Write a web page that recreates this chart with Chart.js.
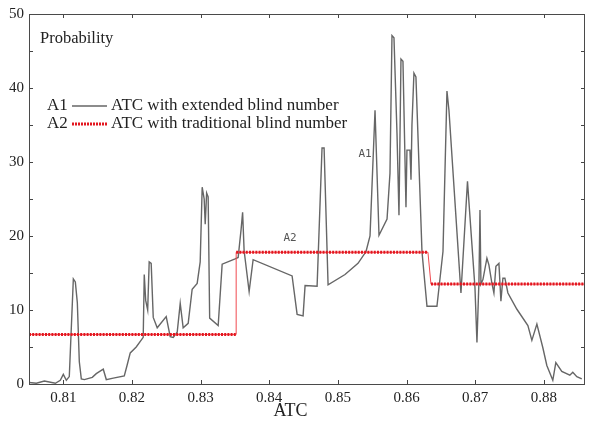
<!DOCTYPE html>
<html>
<head>
<meta charset="utf-8">
<script src="https://cdn.jsdelivr.net/npm/chart.js@4.4.1/dist/chart.umd.min.js"></script>
<style>
html,body{margin:0;padding:0;background:#fff;}
canvas{display:block;}
</style>
</head>
<body>
<canvas id="c" width="590" height="421"></canvas>
<script>
// ---- data ----
const a1X = [0.80505,0.80607,0.80724,0.80884,0.80956,0.81000,0.81044,0.81087,0.81146,0.81175,0.81204,0.81233,0.81262,0.81306,0.81422,0.81480,0.81582,0.81626,0.81728,0.81888,0.81931,0.81975,0.82062,0.82164,0.82179,0.82200,0.82229,0.82251,0.82280,0.82310,0.82368,0.82499,0.82557,0.82601,0.82659,0.82703,0.82746,0.82819,0.82877,0.82950,0.82994,0.83023,0.83052,0.83067,0.83088,0.83110,0.83132,0.83256,0.83314,0.83503,0.83547,0.83591,0.83612,0.83634,0.83707,0.83765,0.84333,0.84406,0.84493,0.84522,0.84697,0.84769,0.84799,0.84857,0.85104,0.85293,0.85410,0.85468,0.85541,0.85599,0.85716,0.85759,0.85788,0.85817,0.85861,0.85890,0.85919,0.85948,0.85992,0.86006,0.86050,0.86065,0.86079,0.86108,0.86137,0.86225,0.86298,0.86443,0.86531,0.86589,0.86618,0.86793,0.86888,0.86953,0.86997,0.87026,0.87055,0.87070,0.87084,0.87113,0.87171,0.87200,0.87244,0.87273,0.87302,0.87346,0.87375,0.87404,0.87433,0.87477,0.87608,0.87768,0.87826,0.87899,0.87986,0.88044,0.88131,0.88175,0.88262,0.88379,0.88422,0.88481,0.88553];
const a1Y = [0.2,0.1,0.4,0.1,0.5,1.3,0.5,1.0,14.2,13.8,11.0,3.0,0.7,0.6,0.9,1.4,2.0,0.6,0.8,1.1,2.6,4.2,5.0,6.3,14.8,11.3,10.0,16.5,16.3,9.0,7.6,9.1,6.4,6.3,7.0,10.9,7.6,8.2,12.8,13.6,16.5,26.6,25.0,21.6,25.8,25.3,8.9,7.9,16.2,16.9,17.1,21.0,23.2,18.0,12.5,16.8,14.6,9.4,9.2,13.3,13.2,31.9,31.9,13.4,14.8,16.3,17.9,20.0,37.0,20.1,22.3,28.5,47.1,46.8,33.9,22.8,43.9,43.6,23.9,31.6,31.6,27.6,35.0,42.0,41.5,17.9,10.5,10.5,17.9,39.6,37.0,12.3,27.4,18.8,13.0,5.6,13.9,23.5,13.5,14.1,17.0,16.1,13.6,12.3,15.9,16.3,11.2,14.3,14.3,12.3,10.1,7.9,5.9,8.1,4.9,2.5,0.5,2.9,1.7,1.2,1.6,1.0,0.7];
const a2X = [0.805,0.83518,0.83518,0.86312,0.86356,0.886];
const a2Y = [6.7,6.7,17.8,17.8,13.5,13.5];
const xTicks = [0.81,0.82,0.83,0.84,0.85,0.86,0.87,0.88];
const yTicks = [0,5,10,15,20,25,30,35,40,45,50];
const yLabels = [0,10,20,30,40,50];
const notes = [{t:'A1', x:0.85395, y:31.1},{t:'A2', x:0.84304, y:19.7}];
const legendRows = [
  {tag:'A1', text:'ATC with extended blind number'},
  {tag:'A2', text:'ATC with traditional blind number'}
];

const GRAY = '#666666';
const RED = '#e3161f';
const SERIF = '"Liberation Serif", "DejaVu Serif", serif';

const pts = (xs, ys) => xs.map((x,i)=>({x:x, y:ys[i]}));

const decor = {
  id:'decor',
  afterDraw(chart){
    const {ctx, chartArea:a, scales:{x, y}} = chart;
    ctx.save();
    // inside ticks
    ctx.strokeStyle = '#444'; ctx.lineWidth = 1;
    ctx.beginPath();
    xTicks.forEach(v=>{
      const px = Math.round(x.getPixelForValue(v))+0.5;
      ctx.moveTo(px, a.bottom); ctx.lineTo(px, a.bottom-4);
      ctx.moveTo(px, a.top); ctx.lineTo(px, a.top+4);
    });
    yTicks.forEach(v=>{
      const py = Math.round(y.getPixelForValue(v))+0.5;
      ctx.moveTo(a.left, py); ctx.lineTo(a.left+4, py);
      ctx.moveTo(a.right, py); ctx.lineTo(a.right-4, py);
    });
    ctx.stroke();
    // frame
    ctx.strokeStyle = '#4a4a4a';
    ctx.strokeRect(Math.round(a.left)+0.5, Math.round(a.top)+0.5, Math.round(a.right-a.left)-1, Math.round(a.bottom-a.top));
    // Probability
    ctx.fillStyle = '#222';
    ctx.font = '16.5px ' + SERIF;
    ctx.textBaseline = 'middle';
    ctx.textAlign = 'left';
    ctx.fillText('Probability', a.left+11, a.top+25);
    // legend
    ctx.font = '17px ' + SERIF;
    legendRows.forEach((r,i)=>{
      const yy = a.top + 92 + i*18;
      ctx.fillStyle = '#222';
      ctx.fillText(r.tag, a.left+18, yy);
      ctx.beginPath();
      if (i===0){
        ctx.strokeStyle = GRAY; ctx.lineWidth = 1.3; ctx.setLineDash([]);
      } else {
        ctx.strokeStyle = RED; ctx.lineWidth = 3; ctx.setLineDash([2,1]);
      }
      ctx.moveTo(a.left+43, yy); ctx.lineTo(a.left+78, yy);
      ctx.stroke();
      ctx.setLineDash([]);
      ctx.fillText(r.text, a.left+82, yy);
    });
    // curve annotations
    ctx.font = '11px "DejaVu Sans Mono", monospace';
    ctx.fillStyle = '#555';
    ctx.textAlign = 'center';
    notes.forEach(n=>{
      ctx.fillText(n.t, x.getPixelForValue(n.x), y.getPixelForValue(n.y));
    });
    // axis title
    ctx.font = '18px ' + SERIF;
    ctx.fillStyle = '#222';
    ctx.fillText('ATC', x.getPixelForValue(0.8431), a.bottom+27);
    ctx.restore();
  }
};

new Chart(document.getElementById('c'), {
  type:'line',
  data:{
    datasets:[
      {label:'A2', data:pts(a2X,a2Y), borderColor:RED, borderWidth:3, borderDash:[2,1.2],
       pointRadius:0, tension:0, order:0,
       segment:{borderColor: c => (c.p0.parsed.y !== c.p1.parsed.y) ? 'rgba(0,0,0,0)' : undefined}},
      {label:'A2 line', data:pts(a2X,a2Y), borderColor:'#f0494f', borderWidth:1, pointRadius:0, tension:0, order:1},
      {label:'A1', data:pts(a1X,a1Y), borderColor:GRAY, borderWidth:1.4, pointRadius:0, tension:0, order:2}
    ]
  },
  options:{
    responsive:false,
    animation:false,
    devicePixelRatio:1,
    layout:{padding:{left:0, right:5, top:9, bottom:0}},
    plugins:{legend:{display:false}, tooltip:{enabled:false}},
    scales:{
      x:{
        type:'linear', min:0.805, max:0.886,
        afterBuildTicks: s => { s.ticks = xTicks.map(v=>({value:v})); },
        afterFit: s => { s.height = 37; },
        grid:{display:false, drawTicks:false},
        border:{display:false},
        ticks:{padding:5, color:'#222', font:{family:SERIF, size:15}, maxRotation:0, autoSkip:false,
               callback: v => v.toFixed(2)}
      },
      y:{
        type:'linear', min:0, max:50,
        afterBuildTicks: s => { s.ticks = yTicks.map(v=>({value:v})); },
        afterFit: s => { s.width = 29; },
        grid:{display:false, drawTicks:false},
        border:{display:false},
        ticks:{padding:5, color:'#222', font:{family:SERIF, size:15}, autoSkip:false,
               callback: v => yLabels.includes(v) ? String(v) : ''}
      }
    }
  },
  plugins:[decor]
});
</script>
</body>
</html>
